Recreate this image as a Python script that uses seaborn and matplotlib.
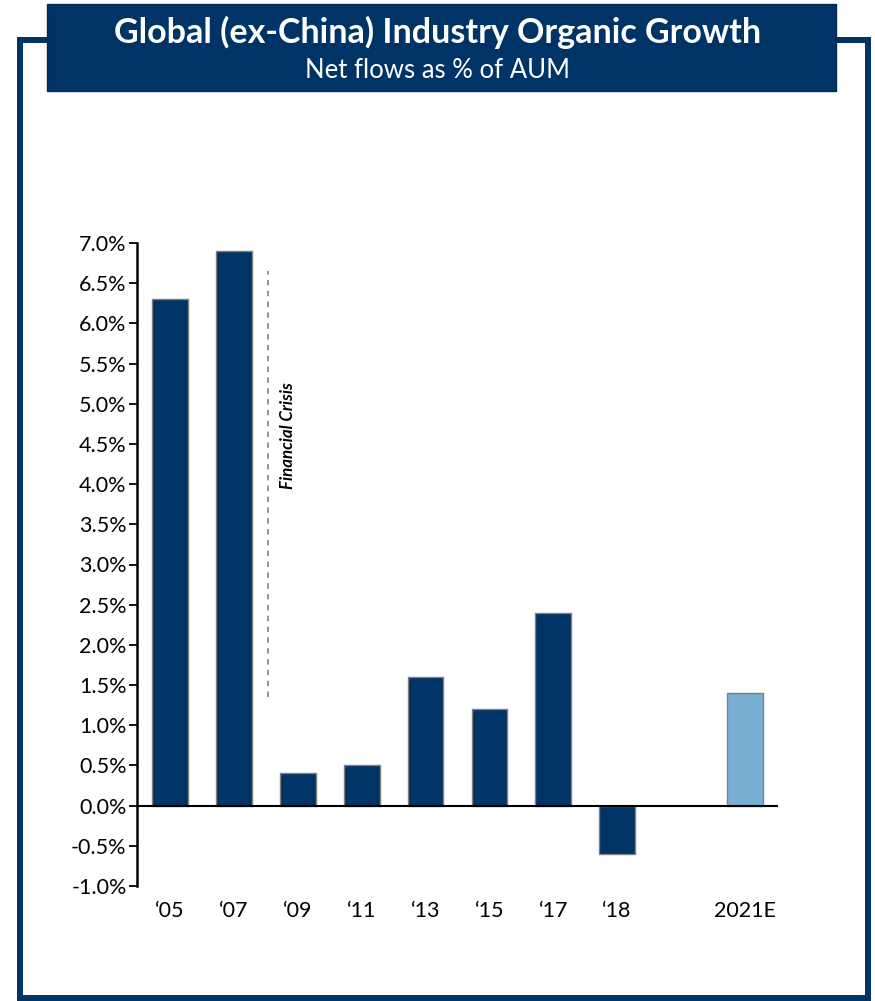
import matplotlib
matplotlib.use("Agg")
import matplotlib.pyplot as plt
from matplotlib.lines import Line2D
from matplotlib.patches import Rectangle
from matplotlib.ticker import FuncFormatter, MultipleLocator
import pandas as pd
import seaborn as sns

# Net flows as % of AUM by year
years = ["\u201805", "\u201807", "\u201809", "\u201811", "\u201813",
         "\u201815", "\u201817", "\u201818", "2021E"]
flows = [6.3, 6.9, 0.4, 0.5, 1.6, 1.2, 2.4, -0.6, 1.4]
axis_order = years[:8] + [" "] + years[8:]

NAVY = "#003366"
LIGHT = "#78aed3"

sns.set_theme(style="white")
plt.rcParams["font.family"] = ["Lato", "DejaVu Sans"]

df = pd.DataFrame({"year": years, "flow": flows})
palette = {y: (LIGHT if y.endswith("E") else NAVY) for y in years}

fig = plt.figure(figsize=(8.75, 10.01), dpi=100)
ax = fig.add_axes([137 / 875, 1 - 886 / 1001, 641 / 875, 643 / 1001])

sns.barplot(data=df, x="year", y="flow", hue="year", order=axis_order,
            palette=palette, saturation=1, width=0.56, edgecolor="#7f7f7f",
            linewidth=1.0, legend=False, ax=ax)

ax.set_ylim(-1.0, 7.0)
ax.set_xlim(-0.52, 9.52)
ax.yaxis.set_major_locator(MultipleLocator(0.5))
ax.yaxis.set_major_formatter(FuncFormatter(lambda v, _: f"{v:.1f}%"))
ax.set_xlabel("")
ax.set_ylabel("")

for side in ("top", "right", "bottom"):
    ax.spines[side].set_visible(False)
ax.spines["left"].set_color("black")
ax.spines["left"].set_linewidth(1.8)
ax.axhline(0, color="black", lw=1.5, zorder=3)

ax.tick_params(axis="y", which="major", left=True, direction="out",
               length=6, width=1.3, color="black", pad=1.5,
               labelsize=15.5, labelcolor="black")
ax.tick_params(axis="x", bottom=False, pad=5, labelsize=15.5,
               labelcolor="black")

# Financial crisis marker
ax.plot([1.53, 1.53], [1.35, 6.65], color="#8c8c8c", lw=1.3,
        linestyle=(0, (3, 3)), zorder=1)
ax.text(1.84, 4.6, "Financial Crisis", rotation=90, ha="center",
        va="center", fontsize=12.2, fontweight="bold", fontstyle="italic",
        color="black")

# Outer frame
lw_frame = 4.3
def fig_line(xs, ys):
    fig.add_artist(Line2D([x / 875 for x in xs], [1 - y / 1001 for y in ys],
                          transform=fig.transFigure, color=NAVY,
                          lw=lw_frame, solid_capstyle="projecting",
                          zorder=0))

fig_line([20, 47], [40, 40])
fig_line([836, 868], [40, 40])
fig_line([20, 20], [40, 998])
fig_line([868, 868], [40, 998])
fig_line([20, 868], [998, 998])

# Title banner
fig.add_artist(Rectangle((47 / 875, 1 - 91 / 1001), 789 / 875, 87 / 1001,
                         transform=fig.transFigure, facecolor=NAVY,
                         edgecolor="#022a55", lw=1.0, zorder=1))
fig.text(0.5, 1 - 32 / 1001, "Global (ex-China) Industry Organic Growth",
         ha="center", va="center", color="white", fontsize=24.5,
         fontweight="bold", zorder=2)
fig.text(0.5, 1 - 70 / 1001, "Net flows as % of AUM", ha="center",
         va="center", color="white", fontsize=18.5, zorder=2)

fig.savefig("out.png", dpi=100, facecolor="white")
